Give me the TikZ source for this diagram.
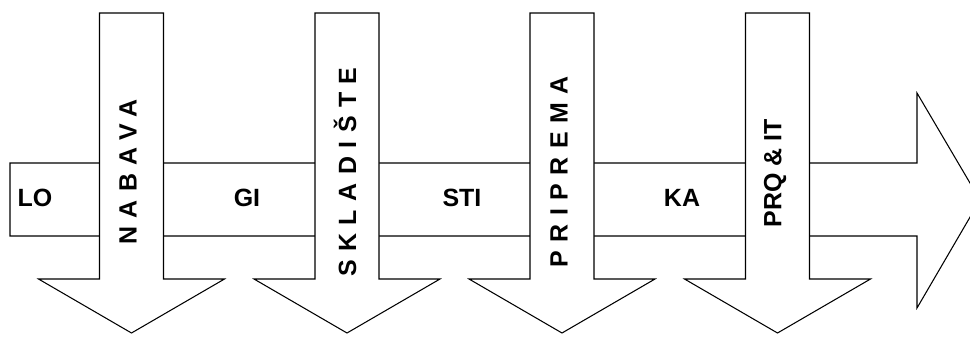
\documentclass[tikz,border=0pt]{standalone}
\usepackage{fontspec}
\setmainfont{Liberation Sans}
\begin{document}
\begin{tikzpicture}[x=0.02cm,y=0.02cm,line width=0.6pt,
  lbl/.style={font=\bfseries\fontsize{14.2}{17}\selectfont,inner sep=0pt},
  vlbl/.style={lbl,rotate=90,font=\bfseries\fontsize{14.2}{17}\selectfont\addfontfeature{LetterSpace=34}}]
\useasboundingbox (0,0) rectangle (970,336);
% main arrow
\draw[fill=white] (10,100) -- (917,100) -- (917,28) -- (980,136) -- (917,243) -- (917,173) -- (10,173) -- cycle;
% down arrows
\draw[fill=white] (99.5,323) -- (163.5,323) -- (163.5,57) -- (224.5,57) -- (131.5,3) -- (38.5,57) -- (99.5,57) -- cycle;
\draw[fill=white] (315,323) -- (379,323) -- (379,57) -- (440,57) -- (347,3) -- (254,57) -- (315,57) -- cycle;
\draw[fill=white] (530,323) -- (594,323) -- (594,57) -- (655,57) -- (562,3) -- (469,57) -- (530,57) -- cycle;
\draw[fill=white] (745.5,323) -- (809.5,323) -- (809.5,57) -- (870.5,57) -- (777.5,3) -- (684.5,57) -- (745.5,57) -- cycle;
% labels
\node[lbl] (lo) at (35,138) {LO};
\node[lbl] (gi) at (247,138) {GI};
\node[lbl] (sti) at (462,138) {STI};
\node[lbl] (ka) at (682,138) {KA};
\node[vlbl] (nabava) at (128,164) {NABAVA};
\node[vlbl] (skladiste) at (345,164) {SKLADIŠTE};
\node[vlbl] (priprema) at (559,164) {PRIPREMA};
\node[lbl,rotate=90] (prqit) at (775,162.5) {PRQ \& IT};
\end{tikzpicture}
\end{document}
